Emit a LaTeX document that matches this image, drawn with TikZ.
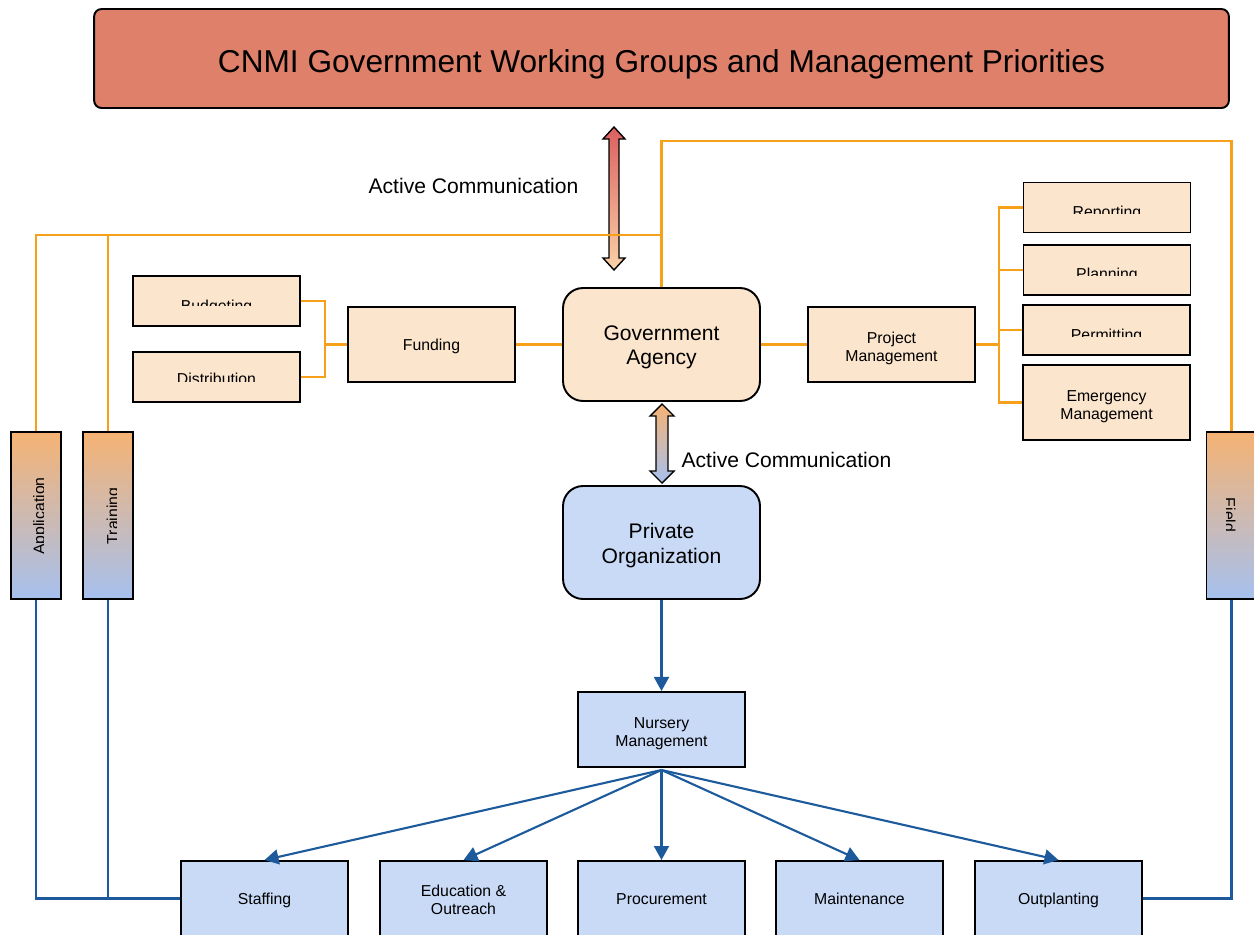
\documentclass[tikz,border=0pt]{standalone}
\usepackage{fontspec}
\setmainfont{Liberation Sans}
\usetikzlibrary{arrows.meta}

\definecolor{titlered}{HTML}{DE806A}
\definecolor{govfill}{HTML}{FBE5CD}
\definecolor{privfill}{HTML}{C9DAF7}
\definecolor{orangeline}{HTML}{F7A11A}
\definecolor{blueline}{HTML}{1C5A9C}
\definecolor{gradorange}{HTML}{F5B273}
\definecolor{gradblue}{HTML}{A6C1EF}
\definecolor{gradred}{HTML}{DB6060}
\definecolor{gradpeach}{HTML}{FAD2A8}

% strut for the first row of two-line labels
\newcommand{\liftrow}[1]{\rule{0pt}{#1em}}

\begin{document}
\begin{tikzpicture}[x=0.02cm,y=-0.02cm,
  wordline/.style={execute at begin node={\rule{0pt}{1.0em}},execute at end node={\rule[-0.212em]{0pt}{0.212em}}},
  smallbox/.style={draw=black,line width=1.1pt,fill=govfill,minimum width=3.34cm,minimum height=1.5cm,
    align=center,font=\fontsize{9}{10.2}\selectfont,inner sep=0pt,wordline},
  bluebox/.style={smallbox,fill=privfill},
  bigbox/.style={draw=black,line width=1.1pt,rounded corners=0.4cm,minimum width=3.94cm,minimum height=2.26cm,
    align=center,font=\fontsize{12}{14.2}\selectfont,inner sep=0pt,wordline},
  sidebox/.style={draw=black,line width=1.1pt,top color=gradorange,bottom color=gradblue,
    minimum width=1cm,minimum height=3.34cm,inner sep=0pt},
  lbl/.style={font=\fontsize{9}{10.2}\selectfont,inner sep=0pt},
  comm/.style={font=\fontsize{12}{14}\selectfont,inner sep=0pt},
  orange/.style={draw=orangeline,line width=1.2pt},
  blue/.style={draw=blueline,line width=1.2pt},
  bluearrow/.style={blue,-{Triangle[length=8pt,width=8.5pt]}},
  blockarrow/.style={draw=black,line width=0.8pt}]
\useasboundingbox (0,0) rectangle (1254,934);
\clip (0,0) rectangle (1254,934);

% title bar
\node[draw=black,line width=1.1pt,rounded corners=0.15cm,fill=titlered,minimum width=22.7cm,minimum height=1.98cm] (title) at (661.5,58.5) {};
\node[anchor=base,inner sep=0pt,font=\fontsize{18}{21}\selectfont] (titletext) at (661.5,72.7)
  {CNMI Government Working Groups and Management Priorities};

% main boxes
\node[bigbox,fill=govfill] (gov) at (661.5,344.5) {\liftrow{0.97}Government\\Agency};
\node[bigbox,fill=privfill] (priv) at (661.5,542.5) {\liftrow{1.0}Private\\Organization};

% communication arrows
\shadedraw[blockarrow,top color=gradred,bottom color=gradpeach]
  (614,127)--(625,139)--(619,139)--(619,258)--(625,258)--(614,270)--(603,258)--(609,258)--(609,139)--(603,139)--cycle;
\node[comm,anchor=base] (comm1) at (473.5,193.5) {Active Communication};
\shadedraw[blockarrow,top color=gradorange,bottom color=gradblue]
  (662,404)--(674,416)--(668,416)--(668,471)--(674,471)--(662,483)--(650,471)--(656,471)--(656,416)--(650,416)--cycle;
\node[comm,anchor=base] (comm2) at (786.5,467.5) {Active Communication};

% funding side
\node[smallbox] (fund) at (431.5,344.5) {Funding};
\node[smallbox,minimum height=1cm] (budget) at (216.5,301) {};
\node[smallbox,minimum height=1cm] (distr) at (216.5,377) {};
\begin{scope}
\clip (133,276) rectangle (300,305.5);
\node[lbl,anchor=base] at (216.5,311.4) {Budgeting};
\end{scope}
\begin{scope}
\clip (133,352) rectangle (300,381);
\node[lbl,anchor=base] at (216.5,384.4) {Distribution};
\end{scope}
\coordinate (fjoin) at (325,344.5);
\draw[orange] (budget.east) -| (fjoin) |- (distr.east);
\draw[orange] (fjoin) -- (fund.west);
\draw[orange] (fund.east) -- (gov.west);

% project management side
\node[smallbox] (pm) at (891.5,344.5) {\liftrow{1.22}Project\\Management};
\node[smallbox,minimum height=1cm] (rep) at (1107,207.5) {};
\node[smallbox,minimum height=1cm] (plan) at (1107,270) {};
\node[smallbox,minimum height=1cm] (perm) at (1106.5,330) {};
\node[smallbox] (emerg) at (1106.5,402.5) {\liftrow{1.25}Emergency\\Management};
\begin{scope}
\clip (1023,183) rectangle (1191,213);
\node[lbl,anchor=base] at (1107,217.4) {Reporting};
\end{scope}
\begin{scope}
\clip (1023,245) rectangle (1191,275);
\node[lbl,anchor=base] at (1107,279.4) {Planning};
\end{scope}
\begin{scope}
\clip (1023,305) rectangle (1190,336);
\node[lbl,anchor=base] at (1106.5,340.4) {Permitting};
\end{scope}
\draw[orange] (gov.east) -- (pm.west);
\coordinate (pjoin) at (999,344.5);
\draw[orange] (pm.east) -- (pjoin);
\draw[orange] (rep.west) -| (pjoin) |- (emerg.west);
\draw[orange] (plan.west) -- (plan.west -| pjoin);
\draw[orange] (perm.west) -- (perm.west -| pjoin);

% side bars
\node[sidebox] (appl) at (36,515.5) {};
\node[sidebox] (train) at (108,515.5) {};
\node[sidebox] (field) at (1231.5,515.5) {};
\begin{scope}
\clip (11,432) rectangle (43.5,599);
\node[lbl,rotate=90,anchor=base] at (44.5,516) {Application};
\end{scope}
\begin{scope}
\clip (83,432) rectangle (116.5,599);
\node[lbl,rotate=90,anchor=base] at (118,516) {Training};
\end{scope}
\begin{scope}
\clip (1226.5,432) rectangle (1254,599);
\node[lbl,rotate=-90,anchor=base] at (1224,515) {Field};
\end{scope}

% orange links to the side bars
\coordinate (ftop) at (1231.5,141);
\draw[orange] (gov.north) |- (ftop) -- (field.north);
\coordinate (lturn) at (661.5,235);
\draw[orange] (lturn) -| (appl.north);
\draw[orange] (train.north |- lturn) -- (train.north);

% nursery and tasks
\node[bluebox] (nurs) at (661.5,729.5) {\liftrow{1.22}Nursery\\Management};
\draw[bluearrow] (priv.south) -- (nurs.north);
\node[bluebox] (staff) at (264.5,898.5) {Staffing};
\node[bluebox] (edu) at (463.5,898.5) {\liftrow{1.1}Education \&\\Outreach};
\node[bluebox] (proc) at (661.5,898.5) {Procurement};
\node[bluebox] (maint) at (859.5,898.5) {Maintenance};
\node[bluebox] (outp) at (1058.5,898.5) {Outplanting};
\coordinate (fan) at (661.5,770);
\foreach \t in {staff,edu,proc,maint,outp}
  \draw[bluearrow] (fan) -- (\t.north);

% blue links from the side bars
\draw[blue] (appl.south) |- (staff.west);
\draw[blue] (train.south) -- (train.south |- staff.west);
\draw[blue] (field.south) |- (outp.east);
\end{tikzpicture}
\end{document}
